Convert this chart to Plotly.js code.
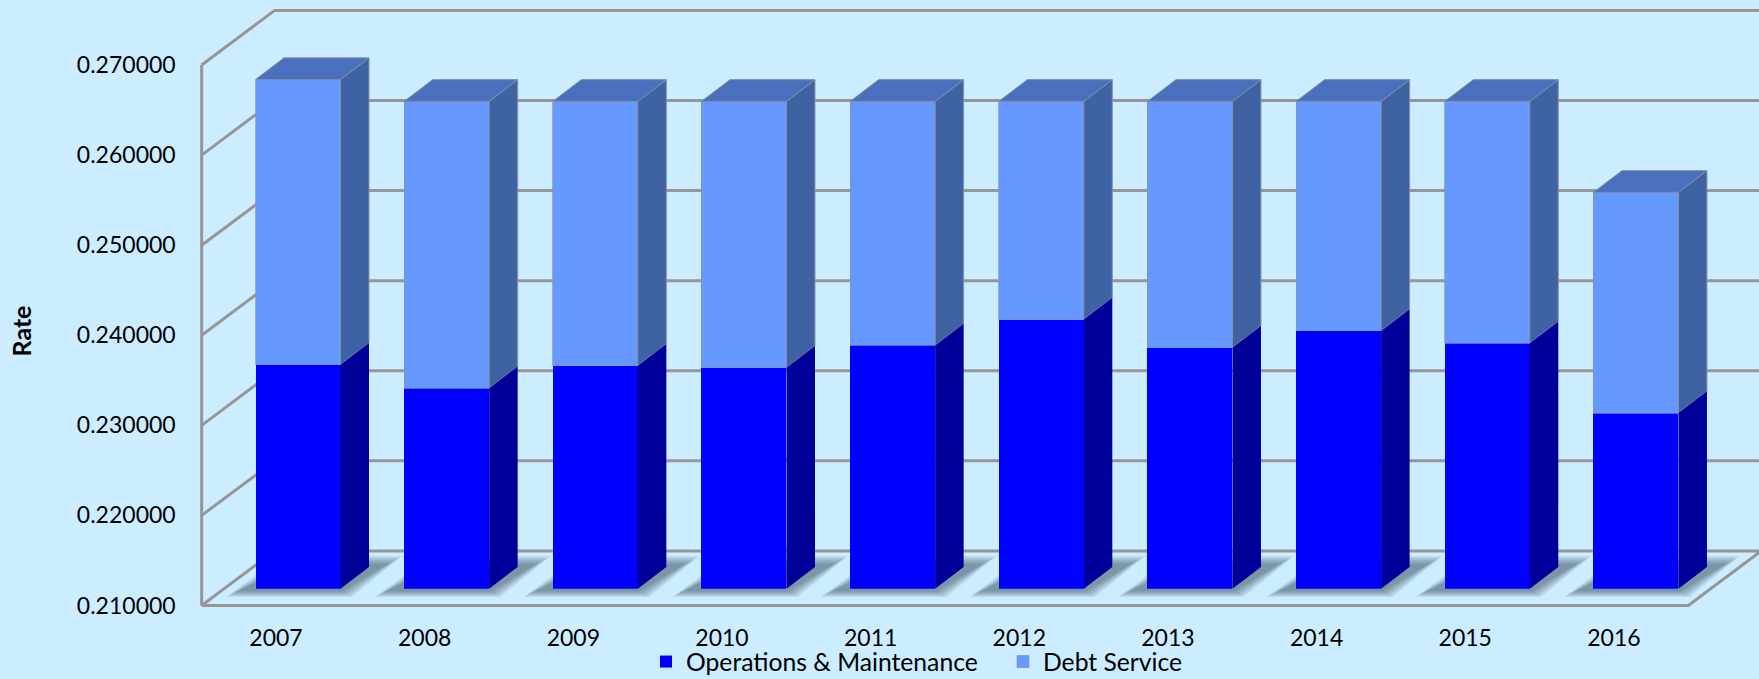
<!DOCTYPE html>
<html>
<head>
<meta charset="utf-8">
<script src="https://cdn.plot.ly/plotly-3.0.1.min.js"></script>
<style>html,body{margin:0;padding:0;background:#CCECFF;overflow:hidden;width:1759px;height:679px}</style>
</head>
<body>
<div style="width:1759px;height:679px;overflow:hidden"><div id="chart"></div></div>
<script>
// ---------- data ----------
const years = [2007, 2008, 2009, 2010, 2011, 2012, 2013, 2014, 2015, 2016];
const operations = [0.23486, 0.23226, 0.23476, 0.23452, 0.23700, 0.23988, 0.23675, 0.23862, 0.23726, 0.22950];
const debtService = [0.03166, 0.03184, 0.02934, 0.02958, 0.02710, 0.02422, 0.02735, 0.02548, 0.02684, 0.02450];
const yTicks = [0.21, 0.22, 0.23, 0.24, 0.25, 0.26, 0.27];
const yTickLabels = ['0.210000', '0.220000', '0.230000', '0.240000', '0.250000', '0.260000', '0.270000'];

// ---------- geometry of the page ----------
const W = 1759, H = 685;
const PX_YEAR = 148.66, PX_VALUE = 90.08 / 0.01;
const LABEL_X = 276, FLOOR_Y = 605.5, BOTTOM_Y = 662;
const BAR_SHIFT_X = 22, BAR_BASE_Y = 588.7;
const dxU = px => px / PX_YEAR, dyU = px => px / PX_VALUE;
const BAR_W = 85 / PX_YEAR;
const DX = dxU(28.5), DY = dyU(21.7);
const WALL_DX = dxU(73), WALL_DY = dyU(54.6);
const GRID = '#969696', FONT = 'Lato, Carlito, Calibri, sans-serif';

const xLeft = years[0] - 0.5, xRight = years[years.length - 1] + 0.5;
const yMin = yTicks[0], yMax = yTicks[yTicks.length - 1];

// ---------- walls, grid and floor (behind the bars) ----------
const gx = [], gy = [];
yTicks.forEach(v => {
  gx.push(xLeft, xLeft + WALL_DX, xRight + WALL_DX, null);
  gy.push(v, v + WALL_DY, v + WALL_DY, null);
});
gx.push(xLeft, xLeft, null, xLeft, xRight, xRight + WALL_DX);
gy.push(yMin, yMax, null, yMin, yMin, yMin + WALL_DY);

const traces = [];
// soft floor shadows: stacked translucent parallelograms, outer to inner
const lerp = (a, b, t) => a + (b - a) * t;
[0, 1 / 7, 2 / 7, 3 / 7, 4 / 7, 5 / 7, 6 / 7, 1].forEach(t => {
  const sx = [], sy = [];
  const yb = yMin + dyU(FLOOR_Y - lerp(597, 591, t)), yt = yMin + dyU(FLOOR_Y - lerp(556, 564, t));
  years.forEach(yr => {
    const bl = yr + dxU(lerp(-50, -38, t)), br = yr + dxU(lerp(76, 66, t));
    const tr = yr + dxU(lerp(126, 112, t)), tl = yr + dxU(lerp(6, 18, t));
    sx.push(bl, br, tr, tl, bl, null);
    sy.push(yb, yb, yt, yt, yb, null);
  });
  traces.push({ x: sx, y: sy, xaxis: 'x', yaxis: 'y', mode: 'lines', fill: 'toself',
    fillcolor: 'rgba(40,60,75,0.08)', line: { width: 0 }, hoverinfo: 'skip', showlegend: false });
});
traces.push({ x: gx, y: gy, xaxis: 'x', yaxis: 'y', mode: 'lines',
  line: { color: GRID, width: 3 }, hoverinfo: 'skip', showlegend: false });

// ---------- bars ----------
traces.push({ type: 'bar', name: 'Operations &amp; Maintenance', x: years, y: operations, xaxis: 'x2', yaxis: 'y2',
  marker: { color: '#0000FF', line: { width: 0 } } });
traces.push({ type: 'bar', name: 'Debt Service', x: years, y: debtService, xaxis: 'x2', yaxis: 'y2',
  marker: { color: '#6699FF', line: { width: 0.7, color: '#8494A8' } } });

// side and top faces derived from the same values
function sideFaces(lows, highs) {
  const x = [], y = [];
  years.forEach((yr, i) => {
    const r = yr + BAR_W / 2;
    x.push(r, r + DX, r + DX, r, r, null);
    y.push(lows[i], lows[i] + DY, highs[i] + DY, highs[i], lows[i], null);
  });
  return { x, y };
}
const totals = operations.map((v, i) => v + debtService[i]);
const s1 = sideFaces(operations.map(() => yMin), operations);
const s2 = sideFaces(operations, totals);
const tx = [], ty = [];
years.forEach((yr, i) => {
  const l = yr - BAR_W / 2, r = yr + BAR_W / 2, t = totals[i];
  tx.push(l, r, r + DX, l + DX, l, null);
  ty.push(t, t, t + DY, t + DY, t, null);
});
const face = (d, fill, line) => ({ x: d.x, y: d.y, xaxis: 'x2', yaxis: 'y2', mode: 'lines', fill: 'toself',
  fillcolor: fill, line: line, hoverinfo: 'skip', showlegend: false });
traces.push(face(s2, '#3F62A3', { width: 1, color: '#8494A8' }));
traces.push(face(s1, '#000099', { width: 0 }));
traces.push(face({ x: tx, y: ty }, '#4A70BD', { width: 1, color: '#7F8DA3' }));

// ---------- layout ----------
const layout = {
  width: W, height: H,
  margin: { l: 0, r: 0, t: 0, b: 0 },
  paper_bgcolor: '#CCECFF', plot_bgcolor: 'rgba(0,0,0,0)',
  font: { family: FONT, color: '#000000', size: 23 },
  barmode: 'stack', bargap: 1 - BAR_W,
  showlegend: true,
  legend: { orientation: 'h', x: 646 / W, xanchor: 'left', y: 0, yanchor: 'bottom', entrywidth: 312,
    bgcolor: 'rgba(0,0,0,0)', font: { family: FONT, size: 24.7 }, traceorder: 'normal',
    itemclick: false, itemdoubleclick: false, tracegroupgap: 0 },
  xaxis: {
    domain: [0, 1], anchor: 'free', position: (H - FLOOR_Y) / H,
    range: [years[0] - LABEL_X / PX_YEAR, years[0] + (W - LABEL_X) / PX_YEAR],
    tickmode: 'array', tickvals: years, ticktext: years.map(String),
    showgrid: false, zeroline: false, showline: false, ticks: '', ticklabelstandoff: 16,
    tickfont: { family: FONT, size: 23 }, fixedrange: true
  },
  yaxis: {
    domain: [(H - BOTTOM_Y) / H, 1], anchor: 'free', position: (LABEL_X - 74.33) / W,
    range: [yMin - (BOTTOM_Y - FLOOR_Y) / PX_VALUE, yMin + FLOOR_Y / PX_VALUE],
    tickmode: 'array', tickvals: yTicks, ticktext: yTickLabels,
    showgrid: false, zeroline: false, showline: false, ticks: '', ticklabelstandoff: 26,
    tickfont: { family: FONT, size: 23 }, fixedrange: true,
    title: { text: '<b>Rate</b>', standoff: 37, font: { family: FONT, size: 25, color: '#000000' } }
  },
  xaxis2: {
    domain: [0, 1], anchor: 'y2', visible: false, fixedrange: true,
    range: [years[0] - (LABEL_X + BAR_SHIFT_X) / PX_YEAR, years[0] + (W - LABEL_X - BAR_SHIFT_X) / PX_YEAR]
  },
  yaxis2: {
    domain: [(H - BAR_BASE_Y) / H, 1], anchor: 'x2', visible: false, fixedrange: true,
    range: [yMin, yMin + BAR_BASE_Y / PX_VALUE]
  }
};
Plotly.newPlot('chart', traces, layout, { displayModeBar: false, staticPlot: false });
</script>
</body>
</html>
